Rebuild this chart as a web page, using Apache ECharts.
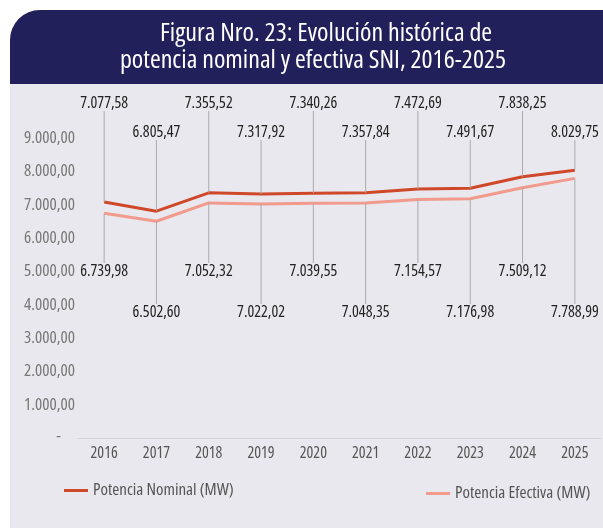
<!DOCTYPE html>
<html>
<head>
  <meta charset="UTF-8">
  <title>Potencia nominal y efectiva SNI</title>
  <script src="https://cdn.jsdelivr.net/npm/echarts@6/dist/echarts.min.js"></script>
  <style>
    html, body { margin: 0; padding: 0; background: #fff; }
  </style>
</head>
<body>
  <div id="chart" style="width: 603px; height: 528px"></div>
  <script>
    // datos
    var years = ['2016', '2017', '2018', '2019', '2020', '2021', '2022', '2023', '2024', '2025'];
    var nominal = [7077.58, 6805.47, 7355.52, 7317.92, 7340.26, 7357.84, 7472.69, 7491.67, 7838.25, 8029.75];
    var efectiva = [6739.98, 6502.60, 7052.32, 7022.02, 7039.55, 7048.35, 7154.57, 7176.98, 7509.12, 7788.99];

    // Open Sans tiene eje de ancho: 'condensed' da una letra angosta
    var font = '"Open Sans", sans-serif';
    var cond = 'condensed';

    // formato 7.077,58
    function fmt(v) {
      var parts = v.toFixed(2).split('.');
      parts[0] = parts[0].replace(/\B(?=(\d{3})+(?!\d))/g, '.');
      return parts[0] + ',' + parts[1];
    }

    var myChart = echarts.init(document.getElementById('chart'));

    var option = {
      animation: false,
      graphic: [
        {
          type: 'rect', z: -10,
          shape: { x: 10, y: 10, width: 600, height: 530, r: [30, 0, 0, 0] },
          style: { fill: '#e9e8ee' }
        },
        {
          type: 'rect', z: -9,
          shape: { x: 10, y: 10, width: 600, height: 74, r: [30, 0, 0, 0] },
          style: { fill: '#22205b' }
        },
        // título en dos líneas
        {
          type: 'text', z: 10, x: 326, y: 34,
          style: {
            text: 'Figura Nro. 23: Evolución histórica de',
            fill: '#fff', font: cond + ' 500 26px ' + font, textAlign: 'center', textVerticalAlign: 'middle'
          }
        },
        {
          type: 'text', z: 10, x: 313, y: 61,
          style: {
            text: 'potencia nominal y efectiva SNI, 2016-2025',
            fill: '#fff', font: cond + ' 500 26px ' + font, textAlign: 'center', textVerticalAlign: 'middle'
          }
        }
      ],
      legend: [
        {
          data: ['Potencia Nominal (MW)'],
          left: 64, top: 482, padding: 0,
          itemWidth: 24, itemHeight: 3, icon: 'rect',
          textStyle: { color: '#555', fontSize: 17, fontFamily: font, fontStyle: cond }
        },
        {
          data: ['Potencia Efectiva (MW)'],
          left: 426, top: 485, padding: 0,
          itemWidth: 24, itemHeight: 3, icon: 'rect',
          textStyle: { color: '#555', fontSize: 17, fontFamily: font, fontStyle: cond }
        }
      ],
      grid: { left: 78, right: 2, top: 138, bottom: 90, containLabel: false },
      xAxis: {
        type: 'category',
        data: years,
        axisLine: { lineStyle: { color: '#d2d2da', width: 1 } },
        axisTick: { show: false },
        axisLabel: { color: '#555', fontSize: 16, fontFamily: font, fontStyle: cond, margin: 7 }
      },
      yAxis: {
        type: 'value',
        min: 0, max: 9000, interval: 1000,
        splitLine: { show: false },
        axisLine: { show: false },
        axisTick: { show: false },
        axisLabel: {
          color: '#777', fontSize: 17, fontFamily: font, fontStyle: cond, margin: 3,
          formatter: function (v) { return v === 0 ? '{d|-}' : fmt(v); },
          rich: { d: { color: '#777', fontSize: 17, fontFamily: font, fontStyle: cond, padding: [0, 14, 4, 0] } }
        }
      },
      series: [
        {
          name: 'Potencia Nominal (MW)',
          type: 'line',
          data: nominal,
          symbol: 'circle', symbolSize: 0.1,
          lineStyle: { color: '#d0482a', width: 3 },
          itemStyle: { color: '#d0482a' },
          label: {
            show: true, position: 'top', color: '#222', fontSize: 16, fontFamily: font, fontStyle: cond,
            formatter: function (p) { return fmt(p.value); }
          },
          labelLine: { show: true, lineStyle: { color: '#aaa', width: 1 } },
          labelLayout: function (p) {
            return { y: p.dataIndex % 2 === 0 ? 103 : 132, verticalAlign: 'middle', align: 'center' };
          },
          z: 3
        },
        {
          name: 'Potencia Efectiva (MW)',
          type: 'line',
          data: efectiva,
          symbol: 'circle', symbolSize: 0.1,
          lineStyle: { color: '#f29a8c', width: 3 },
          itemStyle: { color: '#f29a8c' },
          label: {
            show: true, position: 'bottom', color: '#222', fontSize: 16, fontFamily: font, fontStyle: cond,
            formatter: function (p) { return fmt(p.value); }
          },
          labelLine: { show: true, lineStyle: { color: '#aaa', width: 1 } },
          labelLayout: function (p) {
            return { y: p.dataIndex % 2 === 0 ? 271 : 312, verticalAlign: 'middle', align: 'center' };
          },
          z: 2
        }
      ]
    };
    myChart.setOption(option);
  </script>
</body>
</html>
